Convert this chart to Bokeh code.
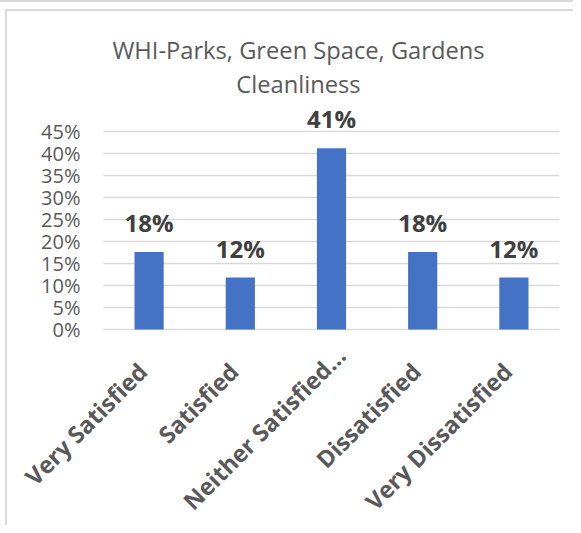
from math import pi
from bokeh.plotting import figure
from bokeh.models import ColumnDataSource, Range1d, LabelSet, Label
from bokeh.core.properties import value
from bokeh.embed import file_html
from bokeh.resources import INLINE

# ---- data ----
categories = ["Very Satisfied", "Satisfied", "Neither Satisfied\u2026",
              "Dissatisfied", "Very Dissatisfied"]
values = [17.6, 11.8, 41.2, 17.6, 11.8]          # percent
y_ticks = [0, 5, 10, 15, 20, 25, 30, 35, 40, 45]
y_tick_labels = [f"{t}%" for t in y_ticks]
title_lines = ["WHI-Parks, Green Space, Gardens", "Cleanliness"]

FONT = "Open Sans"
BAR = "#4472C4"
GRID = "#d9d9d9"
TXT = "#595959"

# ---- layout (pixels) ----
W, H = 573, 525
ZERO_ROW = 329            # pixel row of the 0% line
PX_PER_UNIT = 4.4         # 45% spans 198 px
FIRST_X = 148.6           # pixel column of the first category centre
BAND = 91.2               # pixel width of one category band
XL_DX, XL_DY = 0, -44     # offset of the rotated category labels
ELL_SHIFT = 16            # truncated labels overhang by their ellipsis

n = len(categories)
pos = list(range(n))
shift = [ELL_SHIFT if c.endswith("\u2026") else 0 for c in categories]

src = ColumnDataSource(dict(x=pos, cat=categories, val=values, zero=[0] * n,
                            xo=[XL_DX + s for s in shift],
                            yo=[XL_DY + s for s in shift],
                            lab=[f"{round(v)}%" for v in values]))
tick_src = ColumnDataSource(dict(t=y_ticks, lab=y_tick_labels,
                                 x0=[-0.5] * len(y_ticks),
                                 x1=[n - 0.5] * len(y_ticks)))

p = figure(width=W, height=H, output_backend="svg", toolbar_location=None,
           x_range=Range1d(-FIRST_X / BAND, (W - FIRST_X) / BAND),
           y_range=Range1d(-(H - ZERO_ROW) / PX_PER_UNIT, ZERO_ROW / PX_PER_UNIT),
           min_border_left=0, min_border_right=0,
           min_border_top=0, min_border_bottom=0)
p.axis.visible = False
p.grid.visible = False
p.outline_line_color = None
p.background_fill_color = None
p.border_fill_color = None
# light chart-area frame lines (drawn behind the transparent canvas)
p.styles = {
    "background-image": ("linear-gradient(#d9d9d9,#d9d9d9), "
                         "linear-gradient(#d9d9d9,#d9d9d9), "
                         "linear-gradient(#d9d9d9,#d9d9d9)"),
    "background-size": "100% 2px, 100% 2px, 2px 100%",
    "background-position": "0px 0px, 5px 9px, 5px 9px",
    "background-repeat": "no-repeat",
}

# horizontal gridlines at the value-axis ticks
p.segment(x0="x0", x1="x1", y0="t", y1="t", source=tick_src,
          line_color=GRID, line_width=1.3)

# bars
p.vbar(x="x", top="val", width=0.32, source=src, color=BAR, line_color=None)

# value-axis tick labels
p.add_layout(LabelSet(x="x0", y="t", text="lab", source=tick_src, x_offset=-23,
                      text_align="right", text_baseline="middle",
                      text_font=value(FONT), text_font_size="20px",
                      text_color=TXT))

# category labels, rotated below the 0% line
p.add_layout(LabelSet(x="x", y="zero", text="cat", source=src, angle=pi / 4,
                      x_offset="xo", y_offset="yo",
                      text_align="right", text_baseline="alphabetic",
                      text_font=value(FONT), text_font_style="bold",
                      text_font_size="23.5px", text_color=TXT))

# data labels
p.add_layout(LabelSet(x="x", y="val", text="lab", source=src, y_offset=20,
                      text_align="center", text_baseline="alphabetic",
                      text_font=value(FONT), text_font_style="bold",
                      text_font_size="24px", text_color="#404040"))

# title (two centred lines)
for txt, yy in zip(title_lines, [H - 57 + 8, H - 91 + 8]):
    p.add_layout(Label(x=298, y=yy, x_units="screen", y_units="screen",
                       text=txt, text_align="center", text_baseline="alphabetic",
                       text_font=FONT, text_font_size="23.7px", text_color=TXT))

open("out.html", "w").write(file_html(p, INLINE))
